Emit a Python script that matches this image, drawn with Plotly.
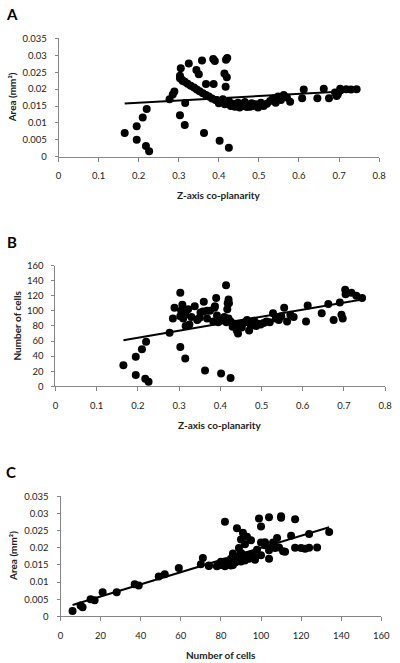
import numpy as np
import plotly.graph_objects as go

# ---- data (one entry per sample) ----
z_coplanarity = [
    0.165, 0.195, 0.195, 0.210, 0.220, 0.218, 0.226, 0.303, 0.315, 0.363, 0.402, 0.425,
    0.277, 0.285, 0.289, 0.316,
    0.325, 0.358, 0.386, 0.390, 0.418, 0.421, 0.305, 0.344, 0.414, 0.350, 0.420, 0.303, 0.303, 0.310,
    0.308, 0.315, 0.322, 0.330, 0.338, 0.345, 0.352, 0.360, 0.368, 0.375, 0.383, 0.392,
    0.368, 0.387, 0.417,
    0.395, 0.400, 0.405, 0.410, 0.415, 0.420, 0.425, 0.430, 0.435, 0.440, 0.443, 0.448,
    0.452, 0.456, 0.460, 0.465, 0.470, 0.474, 0.478, 0.482, 0.487, 0.492, 0.498, 0.505,
    0.512, 0.520, 0.528, 0.535, 0.542, 0.548, 0.555, 0.562, 0.570, 0.578,
    0.608, 0.612, 0.646, 0.662, 0.675, 0.690, 0.694, 0.697, 0.703, 0.704, 0.718, 0.730, 0.744,
]
area_mm2 = [
    0.0070, 0.0050, 0.0090, 0.0116, 0.0141, 0.0032, 0.0016, 0.0123, 0.0094, 0.0070, 0.0047, 0.0027,
    0.0170, 0.0184, 0.0193, 0.0159,
    0.0276, 0.0285, 0.0289, 0.0283, 0.0287, 0.0292, 0.0262, 0.0257, 0.0246, 0.0244, 0.0235, 0.0240, 0.0232, 0.0224,
    0.0228, 0.0222, 0.0216, 0.0210, 0.0205, 0.0199, 0.0194, 0.0188, 0.0183, 0.0178, 0.0172, 0.0168,
    0.0215, 0.0215, 0.0207,
    0.0168, 0.0158, 0.0163, 0.0170, 0.0155, 0.0160, 0.0165, 0.0150, 0.0157, 0.0148, 0.0152, 0.0160,
    0.0146, 0.0155, 0.0150, 0.0162, 0.0147, 0.0153, 0.0148, 0.0158, 0.0150, 0.0155, 0.0146, 0.0160,
    0.0150, 0.0157, 0.0165, 0.0172, 0.0160, 0.0178, 0.0168, 0.0183, 0.0175, 0.0163,
    0.0173, 0.0199, 0.0173, 0.0201, 0.0173, 0.0190, 0.0180, 0.0185, 0.0201, 0.0197, 0.0200, 0.0199, 0.0200,
]
number_of_cells = [
    28, 15, 39, 49, 59, 10, 6, 52, 37, 21, 17, 11,
    71, 90, 104, 80,
    82, 99, 104, 117, 110, 110, 100, 88, 134, 91, 115, 124, 93, 90,
    108, 95, 102, 92, 106, 89, 98, 112, 90, 100, 86, 94,
    100, 106, 102,
    85, 87, 88, 92, 85, 90, 86, 79, 83, 74, 70, 82,
    78, 84, 85, 88, 74, 80, 85, 87, 80, 83, 82, 84,
    86, 85, 97, 90, 88, 93, 104, 86, 95, 92,
    86, 107, 97, 109, 88, 111, 95, 90, 128, 122, 124, 120, 117,
]

xticks_z = [0, 0.1, 0.2, 0.3, 0.4, 0.5, 0.6, 0.7, 0.8]
xticklabels_z = ["0", "0.1", "0.2", "0.3", "0.4", "0.5", "0.6", "0.7", "0.8"]
yticks_area = [0, 0.005, 0.01, 0.015, 0.02, 0.025, 0.03, 0.035]
yticklabels_area = ["0", "0.005", "0.01", "0.015", "0.02", "0.025", "0.03", "0.035"]
yticks_cells = [0, 20, 40, 60, 80, 100, 120, 140, 160]
xticks_cells = [0, 20, 40, 60, 80, 100, 120, 140, 160]

panel_letters = ["A", "B", "C"]
x_titles = ["Z-axis co-planarity", "Z-axis co-planarity", "Number of cells"]
y_titles = ["Area (mm²)", "Number of cells", "Area (mm²)"]

# ---- layout geometry (pixels) ----
W, H = 400, 663
FONT = "Lato"
panels = [
    dict(x=z_coplanarity, y=area_mm2, xr=[0, 0.8], yr=[0, 0.035], px=(57.3, 387.7), py=(153.3, 33.0),
         xt=xticks_z, xtl=xticklabels_z, yt=yticks_area, ytl=yticklabels_area,
         letter=(9, 8), ytx=9),
    dict(x=z_coplanarity, y=number_of_cells, xr=[0, 0.8], yr=[0, 160], px=(54.0, 394.0), py=(386.7, 264.0),
         xt=xticks_z, xtl=xticklabels_z, yt=yticks_cells, ytl=[str(v) for v in yticks_cells],
         letter=(9, 240), ytx=14),
    dict(x=number_of_cells, y=area_mm2, xr=[0, 160], yr=[0, 0.035], px=(59.3, 390.0), py=(620.7, 498.5),
         xt=xticks_cells, xtl=[str(v) for v in xticks_cells], yt=yticks_area, ytl=yticklabels_area,
         letter=(8, 474), ytx=11),
]

fig = go.Figure()
annotations = []
axis_color = "#868686"
tick_font = dict(family=FONT, size=9.5, color="#222222")

for i, p in enumerate(panels):
    n = "" if i == 0 else str(i + 1)
    xa, ya = "x" + n, "y" + n
    xs = np.array(p["x"], dtype=float)
    ys = np.array(p["y"], dtype=float)
    fig.add_trace(go.Scatter(x=xs, y=ys, mode="markers", xaxis=xa, yaxis=ya,
                             marker=dict(color="black", size=8), showlegend=False,
                             hoverinfo="skip", cliponaxis=False))
    slope, icpt = np.polyfit(xs, ys, 1)
    lx = np.array([xs.min(), xs.max()])
    fig.add_trace(go.Scatter(x=lx, y=slope * lx + icpt, mode="lines", xaxis=xa, yaxis=ya,
                             line=dict(color="black", width=2), showlegend=False,
                             hoverinfo="skip"))
    xd = [p["px"][0] / W, p["px"][1] / W]
    yd = [(H - p["py"][0]) / H, (H - p["py"][1]) / H]
    fig.layout["xaxis" + n] = dict(
        domain=xd, range=p["xr"], anchor=ya, tickvals=p["xt"], ticktext=p["xtl"],
        showgrid=False, zeroline=False, showline=True, linecolor=axis_color, linewidth=1,
        ticks="outside", ticklen=4, tickcolor=axis_color, tickfont=tick_font,
        ticklabelstandoff=6, ticklabeloverflow="allow", fixedrange=True)
    fig.layout["yaxis" + n] = dict(
        domain=yd, range=p["yr"], anchor=xa, tickvals=p["yt"], ticktext=p["ytl"],
        showgrid=False, zeroline=False, showline=True, linecolor=axis_color, linewidth=1,
        ticks="outside", ticklen=3, tickcolor=axis_color, tickfont=tick_font,
        ticklabelstandoff=6, ticklabeloverflow="allow", fixedrange=True)
    # panel letter
    annotations.append(dict(text="<b>%s</b>" % panel_letters[i], x=p["letter"][0] / W,
                            y=(H - p["letter"][1]) / H, xref="paper", yref="paper",
                            showarrow=False, xanchor="center", yanchor="middle",
                            font=dict(family=FONT, size=15, color="black")))
    # x title
    annotations.append(dict(text="<b>%s</b>" % x_titles[i], x=(xd[0] + xd[1]) / 2,
                            y=(H - (p["py"][0] + 39)) / H, xref="paper", yref="paper",
                            showarrow=False, xanchor="center", yanchor="middle",
                            font=dict(family=FONT, size=10, color="#222222")))
    # y title
    annotations.append(dict(text="<b>%s</b>" % y_titles[i], x=p["ytx"] / W,
                            y=(yd[0] + yd[1]) / 2, xref="paper", yref="paper", textangle=-90,
                            showarrow=False, xanchor="center", yanchor="middle",
                            font=dict(family=FONT, size=10, color="#222222")))

fig.update_layout(width=W, height=H, margin=dict(l=0, r=0, t=0, b=0),
                  plot_bgcolor="white", paper_bgcolor="white",
                  annotations=annotations, showlegend=False)

fig.write_html("out.html", config={"displayModeBar": False},
               post_script="document.body.style.margin='0';document.body.style.overflow='hidden';")
